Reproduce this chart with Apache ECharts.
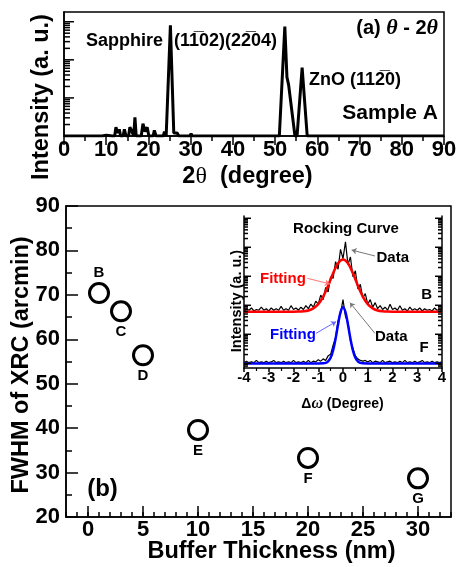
<!DOCTYPE html>
<html>
<head>
<meta charset="utf-8">
<script src="https://cdn.jsdelivr.net/npm/echarts@6/dist/echarts.min.js"></script>
<style>
  html, body { margin: 0; padding: 0; background: #fff; }
  #chart { width: 461px; height: 567px; }
</style>
</head>
<body>
<div id="chart"></div>
<script>
// (a) theta - 2theta scan of sample A (log intensity)
const twoTheta = [0, 9, 10, 11.5, 12, 12.3, 12.7, 13.1, 13.4, 14, 14.3, 14.7, 15.3, 15.6, 16, 16.5, 16.8, 17.1, 18.3, 18.7,
  19.2, 19.7, 20.1, 21.1, 21.4, 21.8, 23.5, 23.8, 24.2, 24.6, 25.2, 26.0, 26.4, 26.8, 27.2, 29.8, 30.1, 30.4, 46.5, 46.8,
  47.1, 51.0, 52.3, 52.8, 53.2, 54.7, 55.2, 56.4, 57.6, 90];
const counts = [1, 1, 1.05, 1, 1, 1.7, 1.2, 1.5, 1, 1, 1.5, 1, 1, 1.7, 1.4, 1, 3.1, 1, 1, 2.1,
  1.3, 1.7, 1, 1, 1.4, 1, 1, 1.3, 1, 1, 800, 1.2, 1.3, 1.2, 1, 1, 1.15, 1, 1, 1.1,
  1, 1, 750, 35, 22, 1, 1, 62, 1, 1];

// (b) FWHM of XRC vs buffer thickness
const sampleNames = ['B', 'C', 'D', 'E', 'F', 'G'];
const bufferNm = [1, 3, 5, 10, 20, 30];
const fwhmArcmin = [70.4, 66.3, 56.4, 39.6, 33.3, 28.7];

// inset: rocking curves of samples B and F (offset, a.u.)
const omega = [-4, -3.9, -3.8, -3.7, -3.6, -3.5, -3.4, -3.3, -3.2, -3.1, -3, -2.9, -2.8, -2.7, -2.6, -2.5, -2.4, -2.3, -2.2, -2.1,
  -2, -1.9, -1.8, -1.7, -1.6, -1.5, -1.4, -1.3, -1.2, -1.1, -1, -0.9, -0.8, -0.7, -0.6, -0.5, -0.4, -0.3, -0.2, -0.1,
  0, 0.1, 0.2, 0.3, 0.4, 0.5, 0.6, 0.7, 0.8, 0.9, 1, 1.1, 1.2, 1.3, 1.4, 1.5, 1.6, 1.7, 1.8, 1.9,
  2, 2.1, 2.2, 2.3, 2.4, 2.5, 2.6, 2.7, 2.8, 2.9, 3, 3.1, 3.2, 3.3, 3.4, 3.5, 3.6, 3.7, 3.8, 3.9, 4];
const rockB = [3.75, 3.9, 3.8, 3.95, 3.75, 3.85, 3.8, 4.0, 3.8, 3.9, 3.75, 3.95, 3.8, 3.9, 3.8, 4.05, 3.8, 3.9, 3.8, 4.1,
  3.85, 3.95, 3.8, 4.0, 3.85, 4.1, 3.9, 4.2, 4.0, 4.4, 4.2, 4.8, 4.5, 5.3, 5.0, 6.0, 5.9, 7.0, 6.5, 7.8,
  7.2, 8.3, 6.8, 7.3, 6.0, 6.4, 5.2, 5.5, 4.6, 4.9, 4.2, 4.5, 4.0, 4.3, 3.9, 4.1, 3.85, 4.0, 3.8, 4.2,
  3.85, 3.95, 3.8, 4.1, 3.8, 3.9, 3.75, 4.0, 3.8, 3.9, 3.8, 3.95, 3.75, 3.9, 3.8, 3.85, 3.75, 3.95, 3.8, 3.85, 3.75];
const rockF = [0.35, 0.45, 0.35, 0.4, 0.35, 0.5, 0.35, 0.4, 0.35, 0.45, 0.35, 0.4, 0.5, 0.35, 0.4, 0.35, 0.45, 0.35, 0.4, 0.35,
  0.5, 0.35, 0.4, 0.35, 0.45, 0.35, 0.5, 0.35, 0.45, 0.4, 0.55, 0.45, 0.6, 0.5, 0.8, 0.9, 1.5, 2.0, 3.1, 3.6,
  4.5, 3.4, 3.0, 1.8, 1.3, 0.8, 0.6, 0.5, 0.45, 0.5, 0.4, 0.5, 0.35, 0.45, 0.4, 0.35, 0.5, 0.35, 0.4, 0.45,
  0.35, 0.4, 0.35, 0.45, 0.35, 0.5, 0.35, 0.4, 0.35, 0.45, 0.35, 0.4, 0.5, 0.35, 0.4, 0.35, 0.45, 0.35, 0.4, 0.35, 0.4];
const fitBX = [-4, -2, -1.8, -1.6, -1.4, -1.2, -1, -0.8, -0.6, -0.4, -0.2, 0, 0.2, 0.4, 0.6, 0.8, 1, 1.2, 1.4, 1.6, 1.8, 2, 4];
const fitBY = [3.7, 3.7, 3.71, 3.73, 3.78, 3.92, 4.2, 4.7, 5.42, 6.23, 6.89, 7.14, 6.89, 6.23, 5.42, 4.7, 4.2, 3.92, 3.78, 3.73, 3.71, 3.7, 3.7];
const fitFX = [-4, -1, -0.8, -0.7, -0.6, -0.5, -0.4, -0.3, -0.2, -0.1, 0, 0.1, 0.2, 0.3, 0.4, 0.5, 0.6, 0.7, 0.8, 1, 4];
const fitFY = [0.3, 0.3, 0.31, 0.34, 0.44, 0.67, 1.15, 1.92, 2.86, 3.67, 4.0, 3.67, 2.86, 1.92, 1.15, 0.67, 0.44, 0.34, 0.31, 0.3, 0.3];

const FONT = '"Liberation Sans", Arial, sans-serif';
const SERIF = '"Liberation Serif", "Times New Roman", serif';

const chart = echarts.init(document.getElementById('chart'));

function pairs(xs, ys) {
  return xs.map((x, i) => [x, ys[i]]);
}

// short tick marks: [x, y, dx, dy] -> line from data point, offset in px
function tickSeries(xi, yi, marks) {
  return {
    type: 'custom',
    xAxisIndex: xi,
    yAxisIndex: yi,
    silent: true,
    z: 5,
    data: marks,
    renderItem: function (params, api) {
      const p = api.coord([api.value(0), api.value(1)]);
      return {
        type: 'line',
        shape: { x1: p[0], y1: p[1], x2: p[0] + api.value(2), y2: p[1] + api.value(3) },
        style: { stroke: '#000', lineWidth: 1.5 }
      };
    }
  };
}

// log ticks of panel (a)
const logTicks = [];
[1, 10, 100, 1000].forEach(d => {
  for (let k = 1; k <= 9; k++) {
    const v = d * k;
    if (v <= 1 || v > 1800) continue;
    logTicks.push([0, v, k === 1 ? 10 : 6, 0]);
  }
});

// log-style ticks on both sides of the inset
const insetTicks = [];
for (let n = -1; n < 6; n++) {
  for (let k = 1; k <= 9; k++) {
    const v = 0.31 + (n + Math.log10(k)) * 1.908;
    if (v < 0.05 || v > 9.95) continue;
    const len = k === 1 ? 7 : 4;
    insetTicks.push([-4, v, len, 0], [4, v, -len, 0]);
  }
}

// longer ticks every 5 nm on panel (b)
const majorX = [0, 5, 10, 15, 20, 25, 30].map(v => [v, 20, 0, -11]);

function label(text, x, y, size, extra) {
  return Object.assign({
    type: 'text', x: x, y: y, z: 10, silent: true,
    style: { text: text, fill: '#000', font: 'bold ' + size + 'px ' + FONT, align: 'center', verticalAlign: 'middle' }
  }, extra || {});
}

function textAt(text, x, y, size, align, color) {
  return {
    type: 'text', x: x, y: y, z: 10, silent: true,
    style: { text: text, fill: color || '#000', font: 'bold ' + size + 'px ' + FONT, align: align, verticalAlign: 'middle' }
  };
}

const bold = (size) => ({ fontFamily: FONT, fontWeight: 'bold', fontSize: size, color: '#000' });
const blackLine = { onZero: false, lineStyle: { color: '#000', width: 1.5 } };

chart.setOption({
  animation: false,
  backgroundColor: '#fff',
  textStyle: { fontFamily: FONT },
  grid: [
    { left: 64, top: 12, width: 380, height: 124, show: true, borderColor: '#000', borderWidth: 1.5 },
    { left: 66, top: 206, width: 385, height: 311, show: true, borderColor: '#000', borderWidth: 1.5 },
    { left: 244, top: 216, width: 198, height: 152 }
  ],
  xAxis: [
    {
      gridIndex: 0, type: 'value', min: 0, max: 90, interval: 10,
      axisLine: blackLine,
      axisTick: { inside: false, length: 9, lineStyle: { width: 1.5 } },
      minorTick: { show: true, splitNumber: 2, length: 5, lineStyle: { color: '#000', width: 1.5 } },
      splitLine: { show: false },
      axisLabel: Object.assign(bold(22), { margin: 3 })
    },
    {
      gridIndex: 1, type: 'value', min: -2, max: 33, interval: 1,
      axisLine: blackLine,
      axisTick: { inside: true, length: 5, lineStyle: { width: 1.5 } },
      splitLine: { show: false },
      axisLabel: Object.assign(bold(22), { margin: 2, formatter: v => (v % 5 === 0 ? String(v) : '') })
    },
    {
      gridIndex: 2, type: 'value', min: -4, max: 4, interval: 1,
      axisLine: blackLine,
      axisTick: { inside: false, length: 4, lineStyle: { width: 1.5 } },
      minorTick: { show: true, splitNumber: 2, length: 3, lineStyle: { color: '#000', width: 1.2 } },
      splitLine: { show: false },
      axisLabel: Object.assign(bold(15), { margin: 2 })
    }
  ],
  yAxis: [
    {
      gridIndex: 0, type: 'log', logBase: 10, min: 1, max: 1800,
      axisLine: Object.assign({ show: true }, blackLine),
      axisTick: { show: false }, axisLabel: { show: false }, splitLine: { show: false }
    },
    {
      gridIndex: 1, type: 'value', min: 20, max: 90, interval: 10,
      axisLine: blackLine,
      axisTick: { inside: true, length: 12, lineStyle: { width: 1.5 } },
      minorTick: { show: true, splitNumber: 2, length: 6, lineStyle: { color: '#000', width: 1.5 } },
      splitLine: { show: false },
      axisLabel: Object.assign(bold(22), { margin: 6 })
    },
    {
      gridIndex: 2, type: 'value', min: 0, max: 10, position: 'left',
      axisLine: Object.assign({ show: true }, blackLine),
      axisTick: { show: false }, axisLabel: { show: false }, splitLine: { show: false }
    },
    {
      gridIndex: 2, type: 'value', min: 0, max: 10, position: 'right',
      axisLine: Object.assign({ show: true }, blackLine),
      axisTick: { show: false }, axisLabel: { show: false }, splitLine: { show: false }
    }
  ],
  series: [
    {
      type: 'line', xAxisIndex: 0, yAxisIndex: 0,
      data: pairs(twoTheta, counts),
      showSymbol: false, silent: true,
      lineStyle: { color: '#000', width: 3 }
    },
    tickSeries(0, 0, logTicks),
    {
      type: 'scatter', xAxisIndex: 1, yAxisIndex: 1,
      data: bufferNm.map((x, i) => ({
        name: sampleNames[i],
        value: [x, fwhmArcmin[i]],
        label: { position: i === 0 ? 'top' : 'bottom' }
      })),
      symbol: 'circle', symbolSize: 19, silent: true,
      itemStyle: { color: '#fff', borderColor: '#000', borderWidth: 3, opacity: 1 },
      label: Object.assign(bold(15), { show: true, distance: 2, formatter: p => p.name })
    },
    tickSeries(1, 1, majorX),
    {
      type: 'line', xAxisIndex: 2, yAxisIndex: 2,
      data: pairs(omega, rockB), showSymbol: false, silent: true,
      lineStyle: { color: '#000', width: 1.2 }
    },
    {
      type: 'line', xAxisIndex: 2, yAxisIndex: 2,
      data: pairs(omega, rockF), showSymbol: false, silent: true,
      lineStyle: { color: '#000', width: 1.2 }
    },
    {
      type: 'line', xAxisIndex: 2, yAxisIndex: 2,
      data: pairs(fitBX, fitBY), showSymbol: false, silent: true, smooth: 0.3,
      lineStyle: { color: '#ff0000', width: 2.5 },
      markLine: {
        silent: true, symbol: ['none', 'arrow'], symbolSize: 5,
        label: { show: false },
        lineStyle: { type: 'solid', width: 1 },
        data: [
          [{ coord: [1.29, 7.37], lineStyle: { color: '#777' } }, { coord: [0.35, 7.76] }],
          [{ coord: [-1.44, 5.9], lineStyle: { color: '#f77' } }, { coord: [-0.53, 5.53] }],
          [{ coord: [-1.09, 2.28], lineStyle: { color: '#66f' } }, { coord: [-0.28, 3.05] }],
          [{ coord: [1.29, 2.28], lineStyle: { color: '#777' } }, { coord: [0.28, 4.3] }]
        ]
      }
    },
    {
      type: 'line', xAxisIndex: 2, yAxisIndex: 2,
      data: pairs(fitFX, fitFY), showSymbol: false, silent: true, smooth: 0.3,
      lineStyle: { color: '#0000ff', width: 2.5 }
    },
    tickSeries(2, 2, insetTicks)
  ],
  graphic: [
    // panel (a)
    label('Intensity (a. u.)', 42, 97, 23.5, { rotation: Math.PI / 2 }),
    {
      type: 'text', x: 247.5, y: 177, silent: true,
      style: {
        text: '{b|2}{t|θ}{b|  (degree)}', align: 'center', verticalAlign: 'middle',
        rich: {
          b: { fontFamily: FONT, fontWeight: 'bold', fontSize: 23.5, fill: '#000' },
          t: { fontFamily: SERIF, fontSize: 24, fill: '#000' }
        }
      }
    },
    textAt('Sapphire', 86, 41, 18, 'left'),
    textAt('(11\u030502)(22\u030504)', 174, 41, 18, 'left'),
    textAt('ZnO (112\u03050)', 309, 80, 18, 'left'),
    {
      type: 'text', x: 438, y: 28, silent: true,
      style: {
        text: '{a|(a) }{t|θ}{a| - 2}{t|θ}', align: 'right', verticalAlign: 'middle',
        rich: {
          a: { fontFamily: FONT, fontWeight: 'bold', fontSize: 20, fill: '#000' },
          t: { fontFamily: SERIF, fontStyle: 'italic', fontWeight: 'bold', fontSize: 22, fill: '#000' }
        }
      }
    },
    textAt('Sample A', 438, 113, 21, 'right'),
    // panel (b)
    label('FWHM of XRC (arcmin)', 22, 365, 23.5, { rotation: Math.PI / 2 }),
    label('Buffer Thickness (nm)', 271.5, 552, 23.5),
    label('(b)', 102.5, 489, 24),
    // inset
    label('Rocking Curve', 346, 229, 15),
    textAt('Data', 376.5, 258, 15, 'left'),
    textAt('Data', 375, 337, 15, 'left'),
    label('B', 426.7, 295, 15),
    label('F', 424, 348.3, 15),
    textAt('Fitting', 260, 279, 15, 'left', '#ff0000'),
    textAt('Fitting', 270, 335, 15, 'left', '#0000ff'),
    label('Intensity (a. u.)', 236.5, 301, 14.5, { rotation: Math.PI / 2 }),
    {
      type: 'text', x: 342.5, y: 404, silent: true,
      style: {
        text: '{b|Δ}{t|ω}{b| (Degree)}', align: 'center', verticalAlign: 'middle',
        rich: {
          b: { fontFamily: FONT, fontWeight: 'bold', fontSize: 14, fill: '#000' },
          t: { fontFamily: SERIF, fontStyle: 'italic', fontWeight: 'bold', fontSize: 16, fill: '#000' }
        }
      }
    }
  ]
});

window.addEventListener('resize', () => chart.resize());
</script>
</body>
</html>
